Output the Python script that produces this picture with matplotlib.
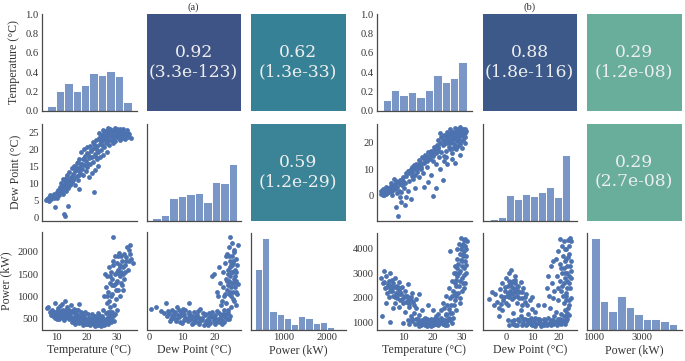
import matplotlib
matplotlib.use("Agg")
import matplotlib.pyplot as plt
import numpy as np
import seaborn as sns

# ---------------- data ----------------
variables = ["Temperature (°C)", "Dew Point (°C)", "Power (kW)"]
panel_titles = ["(a)", "(b)"]

corr_a = [0.92, 0.62, 0.59]
pval_a = ["3.3e-123", "1.3e-33", "1.2e-29"]
corr_b = [0.88, 0.29, 0.29]
pval_b = ["1.8e-116", "1.2e-08", "2.7e-08"]

# histograms (a)
hist_a_temp_range = (6.9, 34.8)
hist_a_temp = [0.05, 0.21, 0.29, 0.21, 0.265, 0.39, 0.37, 0.41, 0.365, 0.093]
hist_a_dew_range = (1.0, 26.6)
hist_a_dew = [3, 7, 27, 30, 32, 33, 22, 46, 45, 68]
hist_a_pow_range = (350, 2340)
hist_a_pow = [61, 92, 19, 16, 12, 6, 14, 12, 7, 8, 3, 1]

# histograms (b)
hist_b_temp_range = (2.9, 31.7)
hist_b_temp = [0.11, 0.22, 0.17, 0.195, 0.14, 0.22, 0.37, 0.30, 0.34, 0.51]
hist_b_dew_range = (-6.4, 24.4)
hist_b_dew = [2, 4, 30, 26, 32, 29, 34, 40, 28, 78]
hist_b_pow_range = (900, 4480)
hist_b_pow = [110, 34, 22, 40, 27, 19, 13, 13, 10, 7]

# scatter (a): temperature vs dew point
a_td_t = [6.6, 7.0, 7.4, 7.8, 8.2, 8.6, 9.0, 9.3, 9.6, 10.0, 10.2, 10.5, 10.8, 11.0, 11.2, 11.5, 11.7, 12.0,
          12.2, 12.4, 12.6, 12.8, 13.0, 13.2, 13.4, 13.6, 13.8, 14.0, 14.2, 14.4, 14.6, 14.8, 15.0, 15.2, 15.4,
          15.6, 15.8, 16.0, 16.2, 16.4, 16.6, 16.8, 17.0, 17.2, 17.4, 17.6, 17.8, 18.0, 18.2, 18.4, 18.6, 18.8,
          19.0, 19.2, 19.4, 19.6, 19.8, 20.0, 20.2, 20.4, 20.6, 20.8, 21.0, 21.2, 21.4, 21.6, 21.8, 22.0, 22.2,
          22.4, 22.6, 22.8, 23.0, 23.2, 23.4, 23.6, 23.8, 24.0, 24.2, 24.4, 24.6, 24.8, 25.0, 25.2, 25.4, 25.6,
          25.8, 26.0, 26.2, 26.4, 26.6, 26.8, 27.0, 27.2, 27.4, 27.6, 27.8, 28.0, 28.2, 28.4, 28.6, 28.8, 29.0,
          29.2, 29.4, 29.6, 29.8, 30.0, 30.3, 30.6, 30.9, 31.2, 31.5, 31.8, 32.1, 32.4, 32.7, 33.0, 33.3, 33.6,
          34.0, 34.5, 9.4, 12.6, 12.9, 13.7, 22.3, 17.5, 25.5, 27.0, 28.5, 30.0, 31.0, 32.0, 24.0, 26.0, 29.0,
          24.5, 25.5, 26.5, 27.5, 28.5, 29.5, 30.5, 31.5, 32.5, 33.5, 26.2, 27.8, 29.2, 31.0, 25.0, 23.5, 22.5,
          21.5, 20.5, 19.0, 17.5, 16.0, 14.5, 13.0, 11.5, 10.0, 8.0, 7.2, 12.0, 15.5, 18.5, 21.0, 23.0, 24.8,
          28.8, 30.6, 32.8, 26.8, 20.0, 17.0]
a_td_d = [5.2, 5.6, 5.0, 6.1, 5.5, 6.4, 5.8, 7.0, 6.2, 7.6, 5.9, 8.3, 6.8, 9.1, 7.5, 10.2, 8.0, 9.5,
          6.9, 11.0, 8.7, 10.1, 7.8, 11.8, 9.6, 12.5, 8.9, 10.7, 13.4, 11.3, 9.8, 12.1, 14.6, 10.5, 13.0,
          15.4, 11.7, 13.9, 9.6, 15.0, 12.4, 16.3, 14.2, 11.0, 17.4, 15.1, 13.3, 16.0, 19.5, 14.4, 17.2, 12.6,
          20.4, 15.7, 18.3, 13.8, 16.8, 20.8, 14.9, 18.9, 12.1, 17.5, 21.3, 15.8, 19.6, 13.2, 18.0, 22.2, 16.5,
          20.5, 14.0, 18.7, 23.0, 17.3, 21.2, 15.2, 19.4, 23.6, 21.8, 17.8, 24.1, 20.1, 22.6, 24.8, 18.6, 23.2,
          21.0, 24.5, 22.0, 25.0, 19.5, 23.8, 24.9, 21.6, 25.3, 23.0, 24.4, 25.6, 22.8, 24.0, 26.0, 23.5, 24.8,
          25.4, 22.5, 24.2, 25.8, 23.8, 24.9, 25.2, 22.9, 24.3, 25.6, 23.6, 24.7, 25.0, 23.2, 24.4, 26.0, 23.8,
          24.6, 23.5, 3.2, 1.0, 0.6, 3.5, 7.5, 8.5, 25.9, 26.4, 25.1, 26.2, 25.9, 26.3, 24.9, 23.1, 23.9,
          23.0, 24.2, 23.6, 24.6, 25.2, 24.5, 23.4, 24.9, 24.2, 25.1, 25.6, 26.2, 26.5, 26.1, 21.5, 20.0, 21.8,
          20.0, 16.0, 17.5, 12.5, 14.8, 10.0, 10.8, 8.5, 6.5, 6.8, 5.9, 11.5, 11.0, 15.8, 17.8, 18.0, 22.5,
          22.0, 24.0, 24.8, 22.4, 19.0, 16.5]

# scatter (a): temperature vs power
a_tp_t = [6.7, 7.3, 8.0, 8.4, 8.8, 9.2, 9.4, 9.6, 10.0, 10.3, 10.6, 10.9, 11.2, 11.5, 11.8, 12.0, 12.3, 12.5,
          12.7, 13.0, 13.2, 13.5, 13.7, 14.0, 14.2, 14.5, 14.8, 15.0, 15.3, 15.6, 15.9, 16.2, 16.5, 16.8, 17.1,
          17.5, 17.8, 18.1, 18.4, 18.8,
          15.2, 16.0, 16.7, 17.4, 18.0, 18.6, 19.0, 19.3, 19.7, 20.0, 20.3, 20.6, 21.0, 21.3, 21.6, 22.0, 22.3,
          22.6, 23.0, 23.3, 23.6, 24.0, 24.3, 24.6, 25.0, 25.3, 25.6, 26.0, 26.3, 26.6, 27.0, 27.3, 27.7, 28.0,
          28.4, 28.8, 29.2, 19.5, 21.8, 23.8, 24.8, 22.8, 20.8, 18.3, 17.0, 25.8, 26.9, 24.1,
          25.5, 25.8, 26.0, 26.3, 26.5, 26.8, 27.0, 27.2, 27.4, 27.6, 27.8, 28.0, 28.2, 28.4, 28.6, 28.8, 29.0,
          29.2, 29.4, 29.6, 29.8, 30.0, 30.2, 30.4, 30.6, 30.8, 31.0, 31.2, 31.4, 31.6, 31.8, 32.0, 32.2, 32.4,
          32.7, 33.0, 33.2, 33.5, 33.8, 34.1, 34.3, 34.6, 35.1, 29.0, 30.0, 28.0, 27.0, 31.0, 29.5, 30.5, 28.5,
          32.5, 31.5,
          9.0, 10.5, 11.0, 12.0, 13.0, 14.0, 15.0, 16.0, 17.0, 18.0, 11.5, 13.8, 8.2, 10.2, 16.5, 19.0, 20.0,
          21.0, 22.0, 23.0, 24.0, 25.0, 26.0, 27.0, 20.5, 22.5, 24.5, 23.5, 21.5, 19.5, 26.5, 28.0, 29.0, 27.5,
          29.5, 30.2, 31.8, 32.8, 28.2, 26.8, 30.8, 29.8, 31.2, 33.8, 27.8]
a_tp_p = [740, 760, 640, 700, 560, 610, 845, 520, 680, 590, 740, 500, 630, 560, 820, 700, 470, 600,
          890, 650, 540, 760, 610, 500, 690, 580, 800, 520, 640, 450, 720, 560, 610, 480, 690,
          830, 540, 420, 600, 500,
          420, 380, 520, 400, 470, 360, 560, 430, 500, 380, 610, 450, 350, 520, 410, 480, 370,
          560, 430, 390, 510, 350, 470, 420, 560, 380, 490, 440, 620, 400, 530, 460, 580, 500,
          640, 560, 610, 650, 600, 620, 330, 340, 520, 550, 450, 360, 370, 580,
          700, 1000, 1500, 1200, 850, 1450, 1100, 1650, 900, 1300, 750, 1550, 1050, 1400, 2340, 1700, 1250,
          1900, 1500, 950, 1750, 1350, 1600, 1150, 1980, 1450, 1700, 1300, 1550, 1800, 1150, 1650, 1400, 1950,
          1700, 1880, 2100, 1600, 1800, 1950, 2160, 1850, 1760, 800, 700, 1000, 650, 1000, 1150, 1500, 1800,
          1550, 1250,
          650, 560, 780, 520, 700, 620, 680, 520, 580, 640, 660, 560, 580, 480, 700, 420, 460,
          400, 420, 470, 400, 450, 380, 420, 380, 450, 500, 360, 470, 380, 500, 420, 450, 650,
          1300, 1900, 1500, 1800, 1250, 1000, 1650, 1550, 1900, 2050, 1450]

# scatter (a): dew point vs power
a_dp_d = [0.5, 2.0, 3.5, 5.0, 5.5, 6.0, 6.5, 7.0, 7.5, 8.0, 8.5, 9.0, 9.5, 10.0, 10.5, 11.0, 11.5, 12.0,
          12.5, 13.0, 13.5, 14.0, 14.5, 15.0, 15.5, 16.0, 16.5, 17.0, 17.5, 18.0, 18.5, 19.0, 19.5, 20.0, 20.5,
          21.0, 21.5, 22.0, 22.5, 23.0, 6.2, 7.8, 9.2, 10.8, 12.2, 13.8, 15.2, 16.8, 18.2, 19.8, 21.2, 8.8,
          11.8, 14.8, 17.8, 20.5, 13.0, 16.0, 10.2, 7.2, 22.2, 23.5, 24.0, 24.5, 19.2, 5.8, 4.5,
          19.5, 19.0, 20.5, 21.0, 21.5, 22.0, 22.3, 22.5, 22.8, 23.0, 23.2, 23.4, 23.6, 23.8, 24.0, 24.1, 24.2,
          24.4, 24.6, 24.6, 24.8, 25.0, 25.0, 25.2, 25.3, 25.5, 25.6, 25.7, 25.9, 26.0, 26.2, 26.4, 26.6, 26.8,
          27.0, 25.8, 24.9, 23.9, 26.3, 25.4, 24.3, 23.5, 22.6, 21.8, 20.8, 26.5, 25.1, 24.7, 23.3,
          6.8, 8.2, 9.8, 11.2, 12.8, 14.2, 15.8, 17.2, 18.8, 20.2, 21.8, 22.8, 10.5, 13.2, 16.2, 19.5, 7.5,
          12.0, 15.0, 18.0, 21.0, 23.2, 24.2, 9.0, 14.0,
          23.8, 24.4, 25.0, 25.4, 24.8, 25.6, 26.0, 24.2, 25.2, 26.2, 23.6, 24.6, 25.8, 26.4, 23.0]
a_dp_p = [720, 770, 670, 845, 560, 620, 500, 700, 580, 450, 760, 540, 640, 400, 600, 700, 480, 860,
          560, 380, 650, 500, 580, 430, 720, 520, 360, 610, 470, 540, 400, 650, 500, 570, 440,
          620, 520, 470, 600, 540, 450, 650, 420, 520, 640, 450, 380, 580, 460, 380, 420, 580,
          440, 660, 350, 660, 560, 460, 720, 520, 380, 480, 620, 560, 530, 680, 620,
          1500, 1450, 1100, 1650, 1300, 900, 1200, 1550, 1000, 1750, 1400, 850, 1950, 1250, 1600, 2100, 1050,
          1800, 2340, 1450, 1700, 1300, 1900, 1550, 950, 1750, 2000, 1400, 1200, 1600, 1850, 1350, 1050, 1280,
          2150, 2050, 750, 700, 800, 1100, 1350, 1150, 700, 800, 1000, 1700, 2200, 1000, 1900,
          560, 500, 580, 520, 480, 560, 500, 420, 560, 500, 560, 420, 460, 400, 620, 440, 620,
          600, 520, 620, 480, 600, 480, 690, 420,
          1500, 1650, 1550, 1800, 1200, 1300, 1450, 1900, 1700, 1100, 1350, 1100, 900, 1550, 1050]

# scatter (b): temperature vs dew point
b_td_t = [2.3, 3.0, 3.5, 4.0, 4.5, 5.0, 5.5, 6.0, 6.5, 7.0, 7.5, 8.0, 8.5, 9.0, 9.5, 10.0, 10.5, 11.0,
          4.2, 5.8, 6.8, 3.2, 7.8, 9.2, 10.2, 11.5, 8.8, 12.0, 6.2,
          8.2, 7.6, 9.3, 10.5, 12.5, 11.0,
          12.0, 12.5, 13.0, 13.5, 14.0, 14.5, 15.0, 15.5, 16.0, 16.5, 17.0, 17.5, 18.0, 18.5, 19.0, 19.5, 20.0,
          20.5, 21.0, 21.5, 22.0, 22.5, 13.2, 15.2, 16.8, 18.4, 20.1, 21.2, 19.5, 22.5, 17.0, 23.5, 21.0, 24.0,
          25.0, 14.0,
          22.0, 23.0, 23.5, 24.0, 24.5, 25.0, 25.5, 26.0, 26.5, 27.0, 27.5, 28.0, 28.5, 29.0, 29.5, 30.0, 30.5,
          31.0, 31.3, 24.5, 25.5, 26.5, 27.5, 28.5, 29.5, 30.5, 26.0, 27.0, 28.0, 29.0, 30.0, 31.0, 23.0, 24.0,
          22.5, 26.8, 29.2, 27.8, 25.2, 26.3, 27.3, 28.3, 29.3, 30.3, 24.8, 31.0, 29.8, 28.7,
          11.5, 13.8, 15.8, 17.8, 19.8, 21.8, 12.8, 14.8, 16.2, 18.2, 20.2, 22.2,
          23.5, 24.5, 25.5, 26.5, 27.5, 28.5, 29.5, 30.5, 25.0, 26.0, 27.0, 28.0, 29.0, 30.0, 31.0, 24.0,
          22.0, 21.0, 20.0, 19.0, 18.0, 17.0, 16.0, 15.0, 14.0, 13.0, 12.0, 11.0, 10.0, 9.0, 8.0, 7.0, 6.0,
          5.0, 4.0, 3.0, 2.5, 5.5, 7.5, 9.5, 27.0, 28.5, 26.0, 24.5]
b_td_d = [0.8, 1.5, 0.5, 2.2, 1.2, 3.0, 1.8, 3.8, 2.5, 4.5, 3.2, 5.3, 2.0, 6.0, 4.2, 7.0, 5.0, 7.5,
          3.5, 5.0, 6.2, 2.8, 1.0, 1.5, 3.0, 2.0, -0.5, 5.5, 0.2,
          -7.5, -4.3, -2.4, -3.5, -1.0, -0.5,
          8.5, 10.0, 9.0, 11.5, 8.0, 12.0, 10.5, 13.5, 11.0, 14.5, 12.5, 15.5, 13.0, 16.5, 14.0, 17.0, 15.0,
          18.5, 16.0, 19.0, 17.0, 20.0, 6.5, 7.0, 8.5, 5.4, -0.1, 3.0, 8.0, 10.0, 3.5, 6.0, 12.0, 13.0,
          12.0, 3.0,
          21.0, 22.0, 19.0, 23.0, 20.5, 24.0, 21.5, 25.0, 22.5, 24.0, 25.5, 23.0, 25.0, 24.5, 25.8, 24.0, 25.0,
          23.5, 24.5, 17.0, 18.5, 16.0, 19.0, 20.5, 19.5, 21.0, 20.0, 21.5, 17.5, 22.0, 18.0, 20.0, 16.5, 15.0,
          23.5, 14.0, 15.5, 12.5, 22.8, 23.5, 22.8, 24.3, 23.2, 22.5, 21.8, 25.3, 20.8, 18.8,
          9.5, 10.0, 12.8, 14.0, 16.0, 18.0, 7.5, 9.0, 10.0, 11.0, 13.0, 14.5,
          21.0, 22.0, 23.0, 24.0, 23.8, 24.8, 24.8, 24.5, 19.8, 21.0, 20.0, 21.5, 20.5, 23.0, 22.0, 19.5,
          18.5, 17.5, 17.0, 15.5, 14.5, 13.8, 12.0, 11.8, 10.5, 11.0, 9.5, 8.5, 5.5, 4.5, 3.5, 2.8, 2.0,
          1.5, 0.8, 0.2, 1.8, 3.5, 5.5, 6.5, 18.0, 22.5, 17.5, 14.5]

# scatter (b): temperature vs power
b_tp_t = [2.5, 3.0, 3.4, 3.8, 4.2, 4.5, 5.0, 5.3, 5.6, 6.0, 6.3, 6.6, 7.0, 7.3, 7.6, 8.0, 8.3, 8.6,
          9.0, 9.3, 9.6, 10.0, 10.3, 10.6, 11.0, 11.3, 11.6, 12.0, 12.3, 12.6, 13.0, 13.3, 13.8, 14.5, 15.5,
          4.0, 6.5, 8.5, 10.5, 2.7, 5.3, 9.8, 7.0, 5.8, 4.8, 8.8, 11.8,
          11.5, 12.0, 12.5, 13.0, 13.5, 14.0, 14.5, 15.0, 15.5, 16.0, 16.5, 17.0, 17.5, 18.0, 18.5, 19.0, 19.5,
          20.0, 20.5, 21.0, 21.5, 22.0, 22.5, 23.0, 23.5, 24.0, 24.5, 25.0, 25.5, 26.0, 16.5, 18.5, 20.0, 22.0,
          14.5, 17.8, 19.8, 21.8, 23.8, 25.8, 12.8, 15.2, 18.2, 20.8, 22.8, 24.2, 26.5, 27.0,
          23.0, 23.5, 24.0, 24.5, 25.0, 25.5, 25.8, 26.0, 26.5, 27.0, 27.2, 27.5, 27.8, 28.0, 28.2, 28.5, 28.7,
          29.0, 29.2, 29.5, 29.7, 30.0, 30.2, 30.4, 30.6, 30.8, 31.0, 31.2, 31.4, 31.6, 29.8, 30.6, 28.8, 27.6,
          26.4, 29.3, 30.9, 31.3, 28.1, 26.8, 29.9, 30.3, 31.0, 28.4, 29.6, 27.9, 30.7, 31.5, 24.7, 25.6, 27.3,
          3.5, 4.5, 5.5, 6.5, 7.5, 8.5, 9.5, 10.5, 11.5, 12.5, 5.0, 7.0, 9.0, 6.0, 8.0,
          15.0, 16.0, 17.0, 18.0, 19.0, 20.0, 21.0, 22.0, 23.0, 24.0, 25.0, 26.0, 16.5, 18.5, 20.5, 22.5, 24.5,
          19.5, 21.5, 17.5,
          28.0, 28.5, 29.0, 29.5, 30.0, 30.5, 31.0, 29.0, 30.0, 31.5, 28.0, 27.5, 29.5, 30.5, 26.5]
b_tp_p = [2800, 2600, 3100, 2400, 2900, 2200, 2700, 2500, 3000, 2300, 2600, 2100, 2450, 2800, 2200, 2000,
          2350, 2650, 1900, 2150, 2450, 1800, 2050, 2300, 1850, 2100, 2550, 1750, 2000, 1900, 2200, 1850, 1700,
          1950, 2150, 1800, 1600, 1650, 1450, 1280, 1010, 1000, 2050, 2350, 2550, 2250, 1650,
          1100, 950, 1250, 1050, 1400, 950, 1150, 1000, 1300, 900, 1100, 1000, 1200, 880, 1050, 950, 1150,
          900, 1050, 1250, 950, 1100, 1000, 1200, 950, 1100, 1300, 1050, 1200, 1400, 1500, 1700, 1500, 1350,
          1600, 1050, 1000, 900, 1000, 1100, 1150, 880, 1150, 950, 1150, 920, 1000, 1200,
          1500, 1800, 1600, 2100, 1700, 2400, 3900, 2000, 2700, 2300, 3000, 2600, 3300, 2100, 3600, 2900, 3400,
          2500, 3800, 3100, 4000, 2800, 3500, 4200, 3200, 3900, 2600, 4400, 3700, 4300, 4450, 4350, 2200, 1900,
          1700, 1800, 2400, 3000, 1500, 1400, 2300, 3700, 4100, 4000, 3550, 2750, 2950, 3350, 1350, 1550, 1700,
          2650, 2450, 2300, 2450, 2050, 2150, 1950, 2100, 1900, 2050, 2050, 1800, 2400, 2750, 2500,
          1150, 1050, 1150, 1000, 1100, 1050, 1000, 950, 1050, 1000, 900, 1150, 950, 900, 1150, 1100, 1100,
          850, 1150, 900,
          2500, 3200, 3000, 2700, 3300, 3800, 3500, 4200, 4100, 4000, 3000, 2200, 2000, 2600, 2100]

# scatter (b): dew point vs power
b_dp_d = [-6.7, -5.5, -4.3, -3.5, -2.5, -2.0, -1.5, -1.0, -0.5, 0.0, 0.5, 1.0, 1.5, 1.7, 2.0, 2.5, 3.0, 3.5,
          4.0, 4.5, 5.0, 5.5, 6.0, 6.5, 7.0, 7.5, 8.0, 9.0, 10.0, 11.0, -3.0, -1.5, 0.5, 2.5, 4.0, 5.5, 1.0,
          3.2, 2.2, 0.2, -1.2, 6.2, 3.8, 1.8, -4.8, 8.5, 12.0, 9.8, -2.8, 0.8,
          1.0, 2.5, 4.0, 5.0, 6.0, 7.0, 8.0, 9.0, 10.0, 11.0, 12.0, 13.0, 14.0, 15.0, 16.0, 17.0, 18.0, 19.0,
          20.0, 21.0, 22.0, 23.0, 5.5, 8.5, 11.5, 14.5, 17.5, 20.5, 3.0, 6.5, 9.5, 12.5, 15.5, 18.5, 21.5, 7.5,
          13.5, 16.5, 19.5, 22.5, 10.5, 4.5, 2.0,
          14.5, 15.5, 16.0, 16.5, 17.0, 17.5, 18.0, 18.5, 19.0, 19.5, 20.0, 20.0, 20.5, 20.8, 21.0, 21.3, 21.5,
          21.8, 22.0, 22.2, 22.4, 22.6, 22.8, 23.0, 23.2, 23.4, 23.6, 23.8, 24.0, 24.2, 24.4, 24.6, 24.8, 25.0,
          23.5, 22.5, 21.0, 19.0, 24.3, 23.1, 22.1, 24.7, 23.7, 21.7, 18.0, 16.8, 19.8, 20.5, 24.0, 23.0,
          -0.5, 0.5, 1.5, 2.5, 3.5, 4.5, 1.0, 2.0, 3.0, 4.0, 5.0, -2.0, 0.0, 6.0, 7.0,
          3.5, 6.5, 9.5, 12.0, 14.5, 17.0, 19.5, 22.0, 23.5, 15.0, 18.0, 20.5, 11.0, 8.0, 13.0,
          22.0, 23.0, 23.5, 24.0, 24.5, 23.0, 24.0, 22.5, 21.5, 24.8, 22.5, 21.0, 25.0, 24.3, 23.4]
b_dp_p = [1950, 2250, 2150, 1850, 2350, 1750, 2600, 2050, 2450, 2800, 2200, 3000, 2550, 3150, 1950, 2700,
          2350, 2900, 2100, 2500, 2250, 2650, 2000, 2400, 1850, 2150, 1700, 1900, 1550, 1450, 1600, 1500, 1700,
          1400, 1800, 1500, 2700, 2750, 2450, 2100, 1900, 2250, 2250, 2150, 1700, 1350, 1700, 2050, 1250, 1100,
          900, 950, 920, 1050, 900, 1150, 950, 1050, 900, 1200, 1000, 1100, 950, 1050, 1200, 900, 1100, 1000,
          1150, 950, 1250, 1050, 1250, 1100, 950, 1150, 1050, 1000, 1100, 1000, 1200, 1150, 900, 1250, 1100,
          900, 880, 1000, 900, 950, 1050, 1150, 1050,
          1700, 2400, 2900, 2100, 3300, 2600, 3500, 2300, 3600, 2900, 1900, 3900, 2700, 4400, 3200, 4100, 2500,
          3700, 1800, 4300, 3000, 3500, 2200, 4000, 2700, 3300, 1600, 4350, 2900, 3800, 2400, 4450, 3100, 2000,
          1400, 1500, 1350, 1450, 1700, 1900, 2600, 3500, 3650, 2100, 2000, 1600, 2400, 3400, 1300, 1250,
          2300, 2500, 2300, 2200, 2600, 2300, 2050, 2650, 2050, 2450, 2000, 2100, 1800, 1700, 2050,
          900, 1150, 950, 1150, 900, 1100, 1050, 1050, 1150, 950, 930, 1150, 880, 1100, 1000,
          3200, 3600, 2400, 4100, 3300, 2100, 2600, 2800, 3000, 4300, 4000, 2300, 2800, 1900, 3000]

# axis limits and ticks
lims_a = [(5.2, 36.4), (-0.8, 27.8), (255, 2435)]
lims_b = [(1.0, 33.3), (-9.2, 27.2), (720, 4660)]
ticks_a = [[10, 20, 30], [0, 10, 20], [1000, 2000]]
ticks_b = [[10, 20, 30], [0, 10, 20], [1000, 3000]]
yticks_a = [[0.0, 0.2, 0.4, 0.6, 0.8, 1.0], [0, 5, 10, 15, 20, 25], [500, 1000, 1500, 2000]]
yticks_b = [[0.0, 0.2, 0.4, 0.6, 0.8, 1.0], [0, 10, 20], [1000, 2000, 3000, 4000]]
diag_top_a = [1.0, 117, 97]
diag_top_b = [1.0, 116, 116]

# ---------------- drawing ----------------
W, H = 685, 361
fig = plt.figure(figsize=(W / 100, H / 100), dpi=100)

SERIF = "Liberation Serif"
TICK_FS = 7.6
LABEL_FS = 8.6
HIST_C = "#7a96c6"
PT_C = "#4c72b0"
SPINE_C = "#4a4a4a"
TXT_C = "#333333"
cmap = sns.color_palette("crest", as_cmap=True)


def add_ax(x, y, w, h):
    return fig.add_axes([x / W, 1 - (y + h) / H, w / W, h / H])


def style(ax):
    for s in ["top", "right"]:
        ax.spines[s].set_visible(False)
    for s in ["left", "bottom"]:
        ax.spines[s].set_color(SPINE_C)
        ax.spines[s].set_linewidth(0.9)
    ax.tick_params(length=0, pad=2.5, labelsize=TICK_FS, colors=TXT_C)
    for lab in ax.get_xticklabels() + ax.get_yticklabels():
        lab.set_fontfamily(SERIF)


def hist(ax, rng, heights):
    edges = np.linspace(rng[0], rng[1], len(heights) + 1)
    ax.bar(edges[:-1], heights, width=np.diff(edges), align="edge",
           color=HIST_C, edgecolor="white", linewidth=0.7)


def square(ax, r, p):
    c = cmap(r)
    ax.set_facecolor((c[0], c[1], c[2], 0.9))
    for s in ax.spines.values():
        s.set_visible(False)
    ax.set_xticks([])
    ax.set_yticks([])
    ax.text(0.5, 0.5, f"{r:.2f}\n({p})", ha="center", va="center",
            transform=ax.transAxes, color="#eeeeee", fontsize=12.3,
            family="DejaVu Serif", linespacing=1.2)


grids = [
    dict(x0=[42, 146.5, 251], lims=lims_a, ticks=ticks_a, yticks=yticks_a,
         corr=corr_a, pval=pval_a, dtop=diag_top_a,
         hists=[(hist_a_temp_range, hist_a_temp), (hist_a_dew_range, hist_a_dew),
                (hist_a_pow_range, hist_a_pow)],
         sc={(1, 0): (a_td_t, a_td_d), (2, 0): (a_tp_t, a_tp_p), (2, 1): (a_dp_d, a_dp_p)},
         ylabels=True),
    dict(x0=[377, 482.5, 587], lims=lims_b, ticks=ticks_b, yticks=yticks_b,
         corr=corr_b, pval=pval_b, dtop=diag_top_b,
         hists=[(hist_b_temp_range, hist_b_temp), (hist_b_dew_range, hist_b_dew),
                (hist_b_pow_range, hist_b_pow)],
         sc={(1, 0): (b_td_t, b_td_d), (2, 0): (b_tp_t, b_tp_p), (2, 1): (b_dp_d, b_dp_p)},
         ylabels=False),
]
y0 = [14, 123.5, 232.5]
CW, CH = 94.5, 97

for gi, g in enumerate(grids):
    upper = [(0, 1), (0, 2), (1, 2)]
    for i in range(3):
        for j in range(3):
            ax = add_ax(g["x0"][j], y0[i], CW, CH)
            if (i, j) in upper:
                k = upper.index((i, j))
                square(ax, g["corr"][k], g["pval"][k])
                continue
            if i == j:
                rng, hts = g["hists"][i]
                hist(ax, rng, hts)
                ax.set_ylim(0, g["dtop"][i])
            else:
                xs, ys = g["sc"][(i, j)]
                ax.scatter(xs, ys, s=12, color=PT_C, linewidths=0)
                ax.set_ylim(*g["lims"][i])
            ax.set_xlim(*g["lims"][j])
            if j == 0:
                ax.set_yticks(g["yticks"][i])
                if i == 0:
                    ax.set_yticklabels([f"{v:.1f}" for v in g["yticks"][i]])
            else:
                ax.set_yticks([])
            if i == 2:
                ax.set_xticks(g["ticks"][j])
                ax.set_xlabel(variables[j], fontsize=LABEL_FS, family=SERIF,
                              color=TXT_C, labelpad=1.5)
            else:
                ax.set_xticks([])
            if j == 0 and g["ylabels"]:
                ax.set_ylabel(variables[i], fontsize=LABEL_FS, family=SERIF,
                              color=TXT_C, labelpad=4)
            style(ax)
    fig.text((g["x0"][1] + CW / 2) / W, 1 - 7 / H, panel_titles[gi], ha="center",
             va="center", fontsize=7.6, family=SERIF, color=TXT_C)

fig.savefig("out.png", dpi=100)
